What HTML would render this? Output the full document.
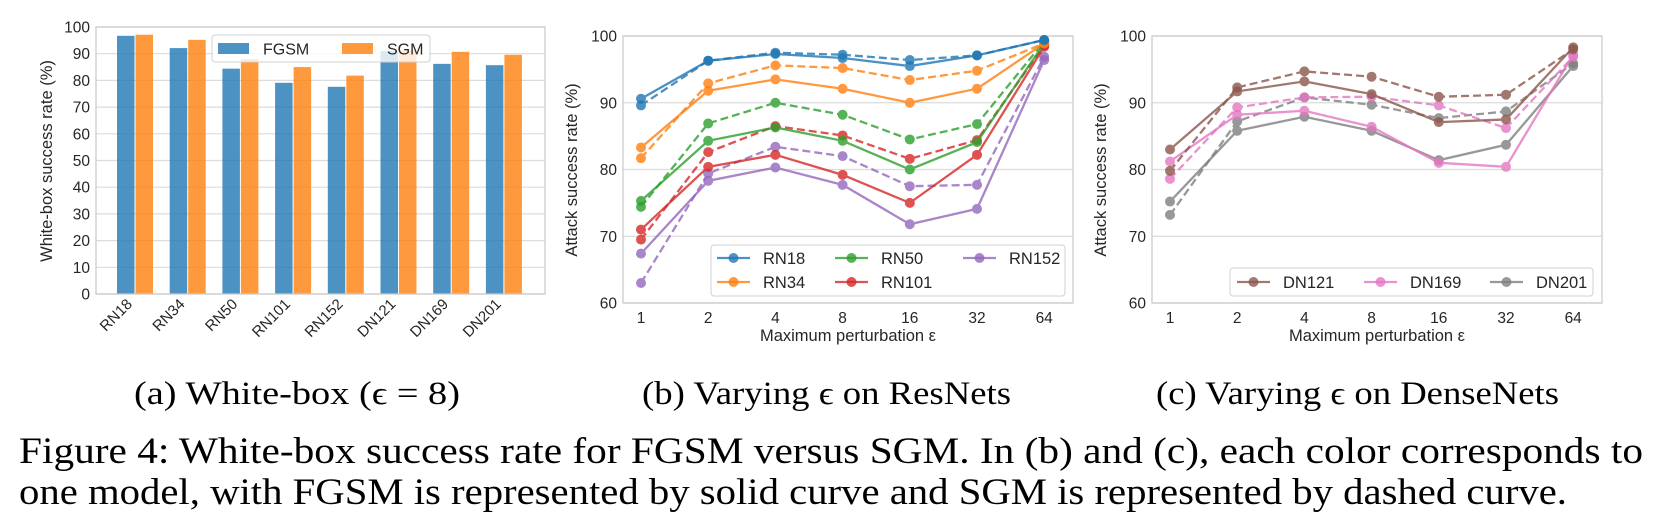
<!DOCTYPE html>
<html><head><meta charset="utf-8"><style>
body{margin:0;background:#fff}
svg{display:block}
text{font-family:"Liberation Sans",sans-serif;fill:#262626}
.cap{font-family:"Liberation Serif",serif;fill:#000}
</style></head><body>
<svg id="fig" width="1670" height="523" viewBox="0 0 1670 523" xmlns="http://www.w3.org/2000/svg">
<g id="ga"></g>
<g id="gb"></g>
<g id="gc"></g>
<text class="cap" x="134" y="404" font-size="33" textLength="326" lengthAdjust="spacingAndGlyphs">(a) White-box (ϵ = 8)</text>
<text class="cap" x="642" y="404" font-size="33" textLength="369" lengthAdjust="spacingAndGlyphs">(b) Varying ϵ on ResNets</text>
<text class="cap" x="1156" y="404" font-size="33" textLength="403" lengthAdjust="spacingAndGlyphs">(c) Varying ϵ on DenseNets</text>
<text class="cap" x="19" y="463" font-size="37" textLength="1624" lengthAdjust="spacingAndGlyphs">Figure 4: White-box success rate for FGSM versus SGM. In (b) and (c), each color corresponds to</text>
<text class="cap" x="19" y="504" font-size="37" textLength="1548" lengthAdjust="spacingAndGlyphs">one model, with FGSM is represented by solid curve and SGM is represented by dashed curve.</text>
</svg>
<script>
const barCategories = ["RN18","RN34","RN50","RN101","RN152","DN121","DN169","DN201"];
const fgsmValues = [96.7,92.1,84.4,79.1,77.6,91.0,86.2,85.7];
const sgmValues = [97.1,95.2,88.0,85.0,81.8,91.2,90.7,89.6];
const barTicks = [0,10,20,30,40,50,60,70,80,90,100];
const epsLabels = ["1","2","4","8","16","32","64"];
const lineTicks = [60,70,80,90,100];
const rn18F = [90.6,96.3,97.3,96.7,95.5,97.1,99.4];
const rn18S = [89.6,96.3,97.5,97.2,96.4,97.1,99.4];
const rn34F = [83.3,91.8,93.5,92.1,90.0,92.1,98.9];
const rn34S = [81.7,92.9,95.6,95.2,93.4,94.8,98.9];
const rn50F = [75.3,84.3,86.3,84.3,80.0,84.1,98.9];
const rn50S = [74.4,86.9,90.0,88.2,84.5,86.8,99.2];
const rn101F = [71.0,80.4,82.2,79.2,75.0,82.2,98.4];
const rn101S = [69.5,82.6,86.5,85.1,81.6,84.4,98.6];
const rn152F = [67.4,78.3,80.3,77.7,71.8,74.1,96.4];
const rn152S = [63.0,79.4,83.4,82.0,77.5,77.7,96.9];
const dn121F = [83.0,91.7,93.2,91.3,87.1,87.5,98.3];
const dn121S = [79.8,92.3,94.7,93.9,90.9,91.2,98.0];
const dn169F = [81.2,88.2,88.8,86.4,81.0,80.4,97.2];
const dn169S = [78.6,89.3,90.8,90.9,89.6,86.2,96.9];
const dn201F = [75.2,85.8,87.9,85.8,81.4,83.7,95.5];
const dn201S = [73.2,87.2,90.8,89.7,87.7,88.7,95.9];

const NS="http://www.w3.org/2000/svg";
function mk(parent,tag,attrs,txt){const e=document.createElementNS(NS,tag);for(const k in attrs)e.setAttribute(k,attrs[k]);if(txt!==undefined)e.textContent=txt;parent.appendChild(e);return e;}

// ---- chart a ----
(function(){
const g=document.getElementById('ga');
const L=96,R=545,T=27,B=294;
const y=v=>B-(v/100)*(B-T);
const x=i=>135+52.7*i;
mk(g,'rect',{x:L,y:T,width:R-L,height:B-T,fill:'#fff'});
barTicks.forEach(t=>{
 const gl=mk(g,'line',{x1:L,x2:R,y1:y(t),y2:y(t),stroke:'#dcdcdc','stroke-width':1.2});
 
 
 const tl=mk(g,'text',{x:L-6,y:y(t)+5.5,'font-size':15.5,'text-anchor':'end'},t);
 
 
});
barCategories.forEach((c,i)=>{
 const b1=mk(g,'rect',{x:x(i)-18,y:y(fgsmValues[i]),width:17.5,height:B-y(fgsmValues[i]),fill:'#1f77b4','fill-opacity':0.8});
 
 
 const b2=mk(g,'rect',{x:x(i)+0.5,y:y(sgmValues[i]),width:17.5,height:B-y(sgmValues[i]),fill:'#ff7f0e','fill-opacity':0.8});
 
 
 const tl=mk(g,'text',{x:x(i)-2,y:305,'font-size':15,'text-anchor':'end',transform:`rotate(-45 ${x(i)-2} 305)`},c);
 
 
});
mk(g,'rect',{x:L,y:T,width:R-L,height:B-T,fill:'none',stroke:'#cccccc','stroke-width':1.3});
const lg=mk(g,'g',{});


mk(lg,'rect',{x:212,y:35,width:218,height:27,rx:3,fill:'#fff','fill-opacity':0.8,stroke:'#d0d0d0'});
mk(lg,'rect',{x:218,y:43,width:31,height:11,fill:'#1f77b4','fill-opacity':0.8});
mk(lg,'text',{x:263,y:54.5,'font-size':16},'FGSM');
mk(lg,'rect',{x:342,y:43,width:31,height:11,fill:'#ff7f0e','fill-opacity':0.8});
mk(lg,'text',{x:387,y:54.5,'font-size':16},'SGM');
const yl=mk(g,'text',{x:52,y:161,'font-size':16.5,'text-anchor':'middle',transform:'rotate(-90 52 161)'},'White-box success rate (%)');


})();

// ---- line charts ----
function lineChart(gid,L,series,legendBox,legendEntries){
 const g=document.getElementById(gid);
 const R=L+450,T=36,B=303;
 const y=v=>B-(v-60)/40*(B-T);
 const x=i=>L+18+67.2*i;
 mk(g,'rect',{x:L,y:T,width:R-L,height:B-T,fill:'#fff'});
 lineTicks.forEach(t=>{
  const gl=mk(g,'line',{x1:L,x2:R,y1:y(t),y2:y(t),stroke:'#dcdcdc','stroke-width':1.2});
  
  
  const tl=mk(g,'text',{x:L-6,y:y(t)+5.5,'font-size':15.5,'text-anchor':'end'},t);
  
  
 });
 epsLabels.forEach((t,i)=>{
  const tl=mk(g,'text',{x:x(i),y:323,'font-size':15.5,'text-anchor':'middle'},t);
  
  
 });
 mk(g,'rect',{x:L,y:T,width:R-L,height:B-T,fill:'none',stroke:'#cccccc','stroke-width':1.3});
 series.forEach(s=>{
  const pts=s.vals.map((v,i)=>x(i)+','+y(v)).join(' ');
  const sg=mk(g,'g',{opacity:0.8});
  
  
  mk(sg,'polyline',{points:pts,fill:'none',stroke:s.color,'stroke-width':2.3,'stroke-dasharray':s.dash?'8,4':'none'});
  s.vals.forEach((v,i)=>{
   const c=mk(sg,'circle',{cx:x(i),cy:y(v),r:5,fill:s.color});
   
   
  });
 });
 const lg=mk(g,'g',{});
 
 
 mk(lg,'rect',{x:legendBox[0],y:legendBox[1],width:legendBox[2],height:legendBox[3],rx:3,fill:'#fff','fill-opacity':0.8,stroke:'#d0d0d0'});
 legendEntries.forEach(e=>{
  const eg=mk(lg,'g',{});
  
  
  mk(eg,'line',{x1:e.x,x2:e.x+33,y1:e.y,y2:e.y,stroke:e.color,'stroke-width':2.3,opacity:0.8});
  mk(eg,'circle',{cx:e.x+16.5,cy:e.y,r:5,fill:e.color,opacity:0.8});
  mk(eg,'text',{x:e.x+46,y:e.y+6,'font-size':16.5},e.label);
 });
 const xl=mk(g,'text',{x:L+225,y:341,'font-size':16.5,'text-anchor':'middle'},'Maximum perturbation ε');
 
 
 const yl=mk(g,'text',{x:L-46,y:170,'font-size':16.5,'text-anchor':'middle',transform:`rotate(-90 ${L-46} 170)`},'Attack success rate (%)');
 
 
}
const C={blue:'#1f77b4',orange:'#ff7f0e',green:'#2ca02c',red:'#d62728',purple:'#9467bd',brown:'#8c564b',pink:'#e377c2',gray:'#7f7f7f'};
lineChart('gb',623,[
 {name:'rn152-sgm',vals:rn152S,color:C.purple,dash:1},{name:'rn152-fgsm',vals:rn152F,color:C.purple},
 {name:'rn101-sgm',vals:rn101S,color:C.red,dash:1},{name:'rn101-fgsm',vals:rn101F,color:C.red},
 {name:'rn50-sgm',vals:rn50S,color:C.green,dash:1},{name:'rn50-fgsm',vals:rn50F,color:C.green},
 {name:'rn34-sgm',vals:rn34S,color:C.orange,dash:1},{name:'rn34-fgsm',vals:rn34F,color:C.orange},
 {name:'rn18-sgm',vals:rn18S,color:C.blue,dash:1},{name:'rn18-fgsm',vals:rn18F,color:C.blue}
],[711,245,354,51],[
 {label:'RN18',color:C.blue,x:717,y:258},{label:'RN34',color:C.orange,x:717,y:282},
 {label:'RN50',color:C.green,x:835,y:258},{label:'RN101',color:C.red,x:835,y:282},
 {label:'RN152',color:C.purple,x:963,y:258}
]);
lineChart('gc',1152,[
 {name:'dn201-sgm',vals:dn201S,color:C.gray,dash:1},{name:'dn201-fgsm',vals:dn201F,color:C.gray},
 {name:'dn169-sgm',vals:dn169S,color:C.pink,dash:1},{name:'dn169-fgsm',vals:dn169F,color:C.pink},
 {name:'dn121-sgm',vals:dn121S,color:C.brown,dash:1},{name:'dn121-fgsm',vals:dn121F,color:C.brown}
],[1230,268,363,28],[
 {label:'DN121',color:C.brown,x:1237,y:282},{label:'DN169',color:C.pink,x:1364,y:282},
 {label:'DN201',color:C.gray,x:1490,y:282}
]);
</script>
</body></html>
